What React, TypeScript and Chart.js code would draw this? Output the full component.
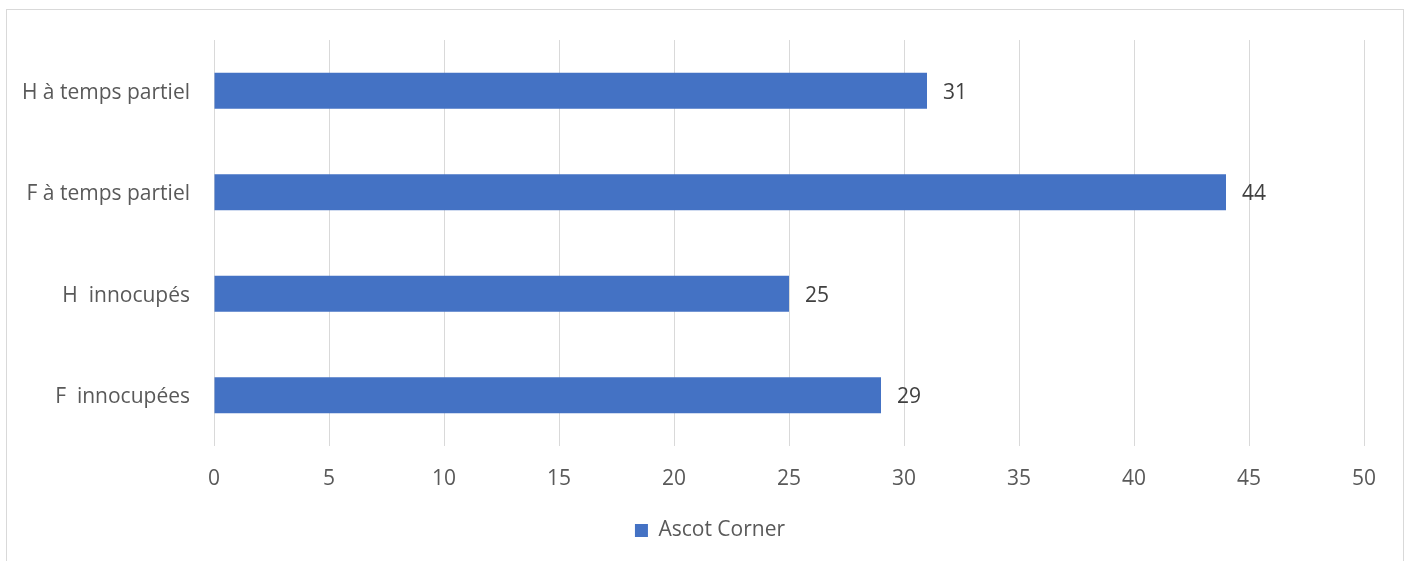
import React, { useEffect, useRef } from "react";
import { Chart, registerables } from "chart.js";

Chart.register(...registerables);

const categories = ["H à temps partiel", "F à temps partiel", "H  innocupés", "F  innocupées"];
const values = [31, 44, 25, 29];
const seriesName = "Ascot Corner";
const xMin = 0;
const xMax = 50;
const xStep = 5;

const FONT = "'Open Sans', 'Noto Sans', sans-serif";
const FS = 21;

const dataLabels = {
  id: "dataLabels",
  afterDatasetsDraw(chart: any) {
    const ctx = chart.ctx;
    const meta = chart.getDatasetMeta(0);
    ctx.save();
    ctx.fillStyle = "#404040";
    ctx.font = `${FS}px ${FONT}`;
    ctx.textAlign = "left";
    ctx.textBaseline = "middle";
    meta.data.forEach((bar: any, i: number) => {
      ctx.fillText(String(values[i]), bar.x + 16, bar.y + 2);
    });
    ctx.restore();
  },
};

const legendShift = {
  id: "legendShift",
  afterLayout(chart: any) {
    if (chart.legend) {
      chart.legend.left += 28;
      chart.legend.right += 28;
    }
  },
};

export default function App() {
  const ref = useRef<HTMLCanvasElement>(null);
  useEffect(() => {
    if (!ref.current) return;
    const chart = new Chart(ref.current, {
      type: "bar",
      data: {
        labels: categories,
        datasets: [
          {
            label: seriesName,
            data: values,
            backgroundColor: "#4472C4",
            borderWidth: 0,
            categoryPercentage: 1,
            barPercentage: 0.355,
          },
        ],
      },
      options: {
        indexAxis: "y",
        animation: false,
        responsive: false,
        maintainAspectRatio: false,
        layout: { padding: { left: 0, right: 42, top: 40, bottom: 10 } },
        scales: {
          x: {
            min: xMin,
            max: xMax,
            ticks: {
              stepSize: xStep,
              color: "#595959",
              font: { family: FONT, size: FS },
              padding: 20,
            },
            grid: { color: "#d9d9d9", drawTicks: false, lineWidth: 1 },
            border: { display: false },
            afterFit: (s: any) => {
              s.height = 65;
            },
          },
          y: {
            ticks: {
              color: "#595959",
              font: { family: FONT, size: FS },
              padding: 24,
              labelOffset: 2,
            },
            grid: { display: false, drawTicks: false },
            border: { display: false },
            afterFit: (s: any) => {
              s.width = 214;
            },
          },
        },
        plugins: {
          legend: {
            position: "bottom",
            labels: {
              boxWidth: 13,
              boxHeight: 13,
              color: "#595959",
              font: { family: FONT, size: FS },
              padding: 9,
            },
          },
          tooltip: { enabled: false },
        },
      },
      plugins: [dataLabels, legendShift],
    });
    return () => chart.destroy();
  }, []);

  return (
    <div style={{ position: "absolute", left: 0, top: 0, width: 1406, height: 561, background: "#fff", overflow: "hidden" }}>
      <div
        style={{
          position: "absolute",
          left: 6,
          top: 9,
          width: 1398,
          height: 600,
          border: "1px solid #d9d9d9",
          boxSizing: "border-box",
        }}
      />
      <canvas ref={ref} width={1406} height={561} style={{ position: "absolute", left: 0, top: 0, width: 1406, height: 561 }} />
    </div>
  );
}
